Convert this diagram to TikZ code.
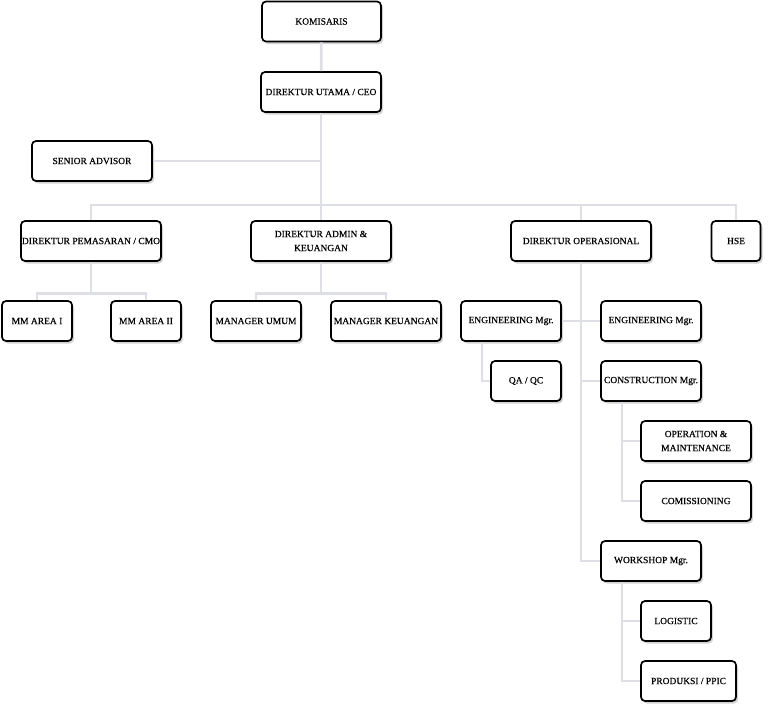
\documentclass[tikz,border=0pt]{standalone}
\usepackage{fontspec}
\setmainfont{Liberation Serif}
\newfontfamily\boxfont[FakeBold=0.5]{Liberation Serif}
\usepackage{xcolor}
\usepackage{tikz}
\usetikzlibrary{calc, shadows, positioning}

\definecolor{linkgray}{RGB}{222,223,230}

\begin{document}
\begin{tikzpicture}[x=1pt, y=-1pt,
    box/.style={draw, line width=1.7pt, rounded corners=4pt, fill=white,
        minimum width=#1, minimum height=40pt, inner sep=0.5pt, align=center,
        font=\boxfont\fontsize{9.5}{14}\selectfont,
        drop shadow={opacity=0.35, shadow xshift=2pt, shadow yshift=-2.5pt}},
    box/.default=100pt,
    link/.style={draw=linkgray, line width=2.8pt}]
    \useasboundingbox (0,0) rectangle (775,716);

    % Pimpinan
    \node[box=119pt] (kom) at (321.5,21.5) {KOMISARIS};
    \node[box=120pt] (ceo) at (321,92) {DIREKTUR UTAMA / CEO};
    \node[box=120pt] (adv) at (92,161) {SENIOR ADVISOR};

    % Direktur
    \node[box=140pt] (cmo) at (91,241) {DIREKTUR PEMASARAN / CMO};
    \node[box=140pt] (adm) at (321,241) {DIREKTUR ADMIN \&\\KEUANGAN};
    \node[box=140pt] (ops) at (581,241) {DIREKTUR OPERASIONAL};
    \node[box=49pt] (hse) at (736,241) {HSE};

    % Manager
    \node[box=70pt] (mma) at (37,321) {MM AREA I};
    \node[box=70pt] (mmb) at (146,321) {MM AREA II};
    \node[box=90pt] (mgu) at (256,321) {MANAGER UMUM};
    \node[box=110pt] (mgk) at (386,321) {MANAGER KEUANGAN};
    \node[box] (engl) at (511,321) {ENGINEERING Mgr.};
    \node[box] (engr) at (651,321) {ENGINEERING Mgr.};
    \node[box=70pt] (qa) at (526,381) {QA / QC};
    \node[box] (con) at (651,381) {CONSTRUCTION Mgr.};
    \node[box=110pt] (om) at (696,441) {OPERATION \&\\MAINTENANCE};
    \node[box=110pt] (com) at (696,501) {COMISSIONING};
    \node[box] (ws) at (651,561) {WORKSHOP Mgr.};
    \node[box=70pt] (log) at (676,621) {LOGISTIC};
    \node[box=95pt] (ppic) at (688.5,681) {PRODUKSI / PPIC};

    % Garis penghubung
    \coordinate (bus) at (321,205);
    \draw[link] (kom) -- (ceo);
    \draw[link] (ceo.south) -- (bus);
    \draw[link] (adv.east) -- (adv.east -| ceo.south);
    \draw[link] (cmo.north) |- (bus) -| (hse.north);
    \draw[link] (adm.north) -- (adm.north |- bus);
    \draw[link] (ops.north) -- (ops.north |- bus);

    \draw[link] (cmo.south) -- ++(0,32) coordinate (cmobus);
    \draw[link] (mma.north) |- (cmobus) -| (mmb.north);
    \draw[link] (adm.south) -- ++(0,32) coordinate (admbus);
    \draw[link] (mgu.north) |- (admbus) -| (mgk.north);

    \draw[link] (ops.south) |- (ws.west);
    \draw[link] (engl.east) -- (engr.west);
    \draw[link] (ops.south |- con) -- (con.west);
    \draw[link] ([xshift=-29pt]engl.south) |- (qa.west);
    \draw[link] ([xshift=-29pt]con.south) |- (com.west);
    \draw[link] ([xshift=-29pt]con.south |- om) -- (om.west);
    \draw[link] ([xshift=-29pt]ws.south) |- (ppic.west);
    \draw[link] ([xshift=-29pt]ws.south |- log) -- (log.west);

\end{tikzpicture}
\end{document}
